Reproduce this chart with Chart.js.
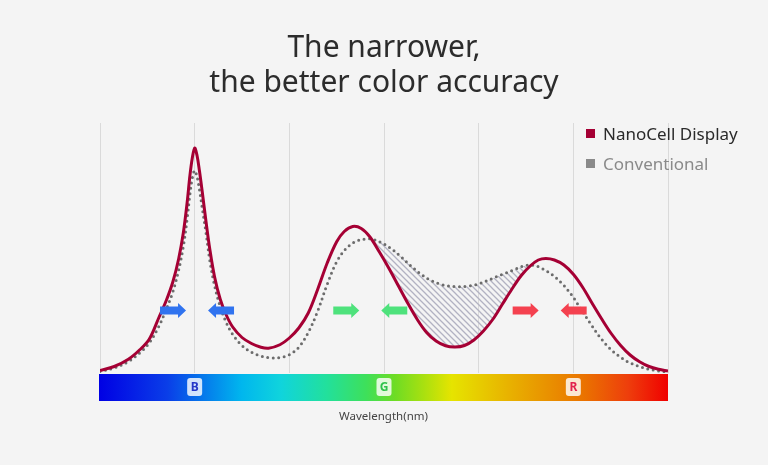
<!DOCTYPE html>
<html>
<head>
<meta charset="utf-8">
<script src="https://cdn.jsdelivr.net/npm/chart.js@4.4.1/dist/chart.umd.min.js"></script>
<style>
  html, body { margin: 0; padding: 0; background: #f4f4f4; }
  #wrap { width: 768px; height: 465px; position: relative; }
</style>
</head>
<body>
<div id="wrap"><canvas id="spectrumChart"></canvas></div>
<script>
// wavelength position (0-600, one gridline per 100) and relative intensity (0-100)
const nanoX = [0, 15, 30, 42, 52, 62, 70, 77, 83, 88, 92, 95, 97.5, 100, 102.5, 105, 108, 112, 116, 121,
  127, 133, 140, 150, 160, 170, 178, 190, 200, 210, 220, 230, 240, 250, 258, 267, 276, 285, 295, 305,
  315, 325, 335, 345, 355, 365, 375, 385, 395, 405, 415, 425, 435, 445, 455, 463, 471, 480, 490, 500,
  510, 520, 530, 540, 550, 560, 570, 580, 590, 600];
const nanoY = [1.0, 2.6, 5.5, 9.3, 13.5, 22.0, 29.0, 36.5, 45.5, 56.0, 68.0, 79.0, 86.0, 90.0, 87.0, 81.0, 72.5, 60.5, 49.5, 38.5,
  29.5, 23.5, 18.5, 14.2, 11.8, 10.3, 9.9, 11.3, 14.0, 18.0, 24.0, 33.5, 44.0, 52.5, 56.6, 58.6, 57.8, 54.5, 48.5, 42.0,
  35.0, 28.0, 21.5, 16.2, 12.8, 10.9, 10.4, 11.0, 13.2, 16.8, 21.5, 27.5, 33.5, 39.0, 43.0, 45.2, 45.8, 45.2, 43.2, 39.5,
  34.2, 27.8, 21.6, 15.8, 11.0, 7.2, 4.5, 2.6, 1.5, 0.8];

const convX = [0, 15, 30, 42, 52, 62, 70, 77, 83, 88, 92, 95, 97.5, 100, 102.5, 105, 108, 112, 116, 121,
  127, 133, 140, 150, 160, 170, 180, 190, 200, 210, 220, 230, 240, 250, 260, 270, 280, 288, 298, 308,
  318, 328, 338, 348, 358, 368, 378, 388, 398, 408, 418, 428, 438, 446, 453, 460, 468, 478, 488, 498,
  508, 518, 528, 538, 548, 558, 568, 580, 590, 600];
const convY = [0.6, 2.0, 4.6, 8.0, 12.0, 18.5, 25.5, 32.5, 41.0, 50.5, 61.5, 71.5, 78.0, 81.0, 78.5, 73.5, 66.0, 56.0, 45.0, 35.0,
  26.5, 20.5, 15.5, 11.0, 8.3, 6.8, 6.1, 6.2, 7.3, 10.3, 16.2, 24.8, 35.5, 44.5, 49.8, 52.6, 53.6, 53.5, 52.0, 49.6,
  46.5, 43.0, 39.8, 37.3, 35.7, 34.8, 34.5, 34.7, 35.4, 36.8, 38.4, 39.9, 41.4, 42.6, 43.2, 42.9, 41.6, 39.2, 35.8, 31.3,
  25.6, 19.8, 14.4, 10.0, 6.8, 4.4, 2.8, 1.5, 0.8, 0.4];

const bandLabels = ['B', 'G', 'R'];
const bandPositions = [100, 300, 500];
const bandColors = ['#2438c8', '#2ec24a', '#e2234e'];

// narrowing arrows around each peak
const arrowCenters = [102.5, 285.5, 475];
const arrowLevel = 25;
const arrowColors = ['#3073ef', '#4ee27c', '#f4414f'];

const titleLines = ['The narrower,', 'the better color accuracy'];
const axisLabel = 'Wavelength(nm)';

const spectrumStops = [
  [0, '#0000e4'], [0.12, '#0a3ee8'], [0.25, '#00b6ee'], [0.32, '#10d4dc'],
  [0.4, '#22e09c'], [0.47, '#3ee05a'], [0.52, '#6edc24'], [0.57, '#a8e010'],
  [0.62, '#e6e400'], [0.72, '#e8b200'], [0.85, '#ea7400'], [0.93, '#ee3e0c'], [1, '#f00000']
];

function makeHatch() {
  const c = document.createElement('canvas');
  c.width = 6;
  c.height = 6;
  const g = c.getContext('2d');
  g.strokeStyle = '#b2b2c2';
  g.lineWidth = 1.3;
  g.beginPath();
  g.moveTo(-1, -1); g.lineTo(7, 7);
  g.moveTo(5, -1); g.lineTo(7, 1);
  g.moveTo(-1, 5); g.lineTo(1, 7);
  g.stroke();
  return g.createPattern(c, 'repeat');
}

function drawArrow(ctx, x0, x1, y, color) {
  // x0 = tail, x1 = tip
  const dir = x1 > x0 ? 1 : -1;
  const head = 8;
  ctx.fillStyle = color;
  ctx.beginPath();
  ctx.moveTo(x0, y - 4);
  ctx.lineTo(x1 - dir * head, y - 4);
  ctx.lineTo(x1 - dir * head, y - 7.5);
  ctx.lineTo(x1, y);
  ctx.lineTo(x1 - dir * head, y + 7.5);
  ctx.lineTo(x1 - dir * head, y + 4);
  ctx.lineTo(x0, y + 4);
  ctx.closePath();
  ctx.fill();
}

const decorPlugin = {
  id: 'decor',
  beforeDraw(chart) {
    const ctx = chart.ctx;
    ctx.save();
    ctx.fillStyle = '#f4f4f4';
    ctx.fillRect(0, 0, chart.width, chart.height);
    ctx.restore();
  },
  afterDatasetsDraw(chart) {
    const ctx = chart.ctx;
    const x = chart.scales.x;
    const y = chart.scales.y;
    const py = y.getPixelForValue(arrowLevel);
    ctx.save();
    arrowCenters.forEach((c, i) => {
      const px = x.getPixelForValue(c);
      drawArrow(ctx, px - 37, px - 11, py, arrowColors[i]);
      drawArrow(ctx, px + 37, px + 11, py, arrowColors[i]);
    });
    ctx.restore();
  },
  afterDraw(chart) {
    const ctx = chart.ctx;
    const x = chart.scales.x;
    const area = chart.chartArea;
    ctx.save();

    // title
    ctx.fillStyle = '#2c2c2c';
    ctx.font = '30px "Noto Sans"';
    ctx.textAlign = 'center';
    ctx.textBaseline = 'alphabetic';
    ctx.fillText(titleLines[0], 384, 57);
    ctx.fillText(titleLines[1], 384, 92);

    // legend
    ctx.textAlign = 'left';
    ctx.font = '17px "Noto Sans"';
    chart.data.datasets.forEach((ds, i) => {
      const base = 140 + i * 30;
      ctx.fillStyle = ds.legendColor;
      ctx.fillRect(586, base - 11, 9, 9);
      ctx.fillStyle = ds.legendText;
      ctx.fillText(ds.label, 603, base);
    });

    // spectrum bar
    const left = x.getPixelForValue(0) - 1;
    const right = x.getPixelForValue(600);
    const top = area.bottom + 1;
    const grad = ctx.createLinearGradient(left, 0, right, 0);
    spectrumStops.forEach(([p, c]) => grad.addColorStop(p, c));
    ctx.fillStyle = grad;
    ctx.fillRect(left, top, right - left, 27);

    // band badges
    ctx.textAlign = 'center';
    ctx.textBaseline = 'middle';
    ctx.font = 'bold 12px "Noto Sans"';
    bandLabels.forEach((lab, i) => {
      const px = x.getPixelForValue(bandPositions[i]);
      ctx.fillStyle = 'rgba(255,255,255,0.82)';
      ctx.beginPath();
      ctx.roundRect(px - 7.5, top + 4, 15, 18, 3);
      ctx.fill();
      ctx.fillStyle = bandColors[i];
      ctx.fillText(lab, px, top + 13.5);
    });

    // axis label
    ctx.fillStyle = '#444';
    ctx.font = '11.5px "Noto Sans"';
    ctx.textBaseline = 'alphabetic';
    ctx.fillText(axisLabel, (left + right) / 2, 420);
    ctx.restore();
  }
};

new Chart(document.getElementById('spectrumChart'), {
  type: 'line',
  data: {
    datasets: [{
      label: 'NanoCell Display',
      data: nanoX.map((v, i) => ({ x: v, y: nanoY[i] })),
      borderColor: '#a50034',
      borderWidth: 3,
      tension: 0.35,
      pointRadius: 0,
      fill: { target: 1, above: 'rgba(0,0,0,0)', below: makeHatch() },
      legendColor: '#a50034',
      legendText: '#2a2a2a'
    }, {
      label: 'Conventional',
      data: convX.map((v, i) => ({ x: v, y: convY[i] })),
      borderColor: '#6c6c6c',
      borderWidth: 3,
      borderDash: [0, 5.5],
      borderCapStyle: 'round',
      tension: 0.35,
      pointRadius: 0,
      fill: false,
      legendColor: '#8a8a8a',
      legendText: '#8a8a8a'
    }]
  },
  options: {
    responsive: true,
    maintainAspectRatio: false,
    animation: false,
    layout: { padding: { top: 123, bottom: 92, left: 100, right: 100 } },
    plugins: {
      legend: { display: false },
      tooltip: { enabled: false },
      filler: { drawTime: 'beforeDatasetsDraw' }
    },
    scales: {
      x: {
        type: 'linear',
        min: 0,
        max: 600,
        ticks: { display: false, stepSize: 100 },
        grid: { color: '#dadada', lineWidth: 1, drawTicks: false },
        border: { display: false }
      },
      y: {
        display: false,
        min: 0,
        max: 100
      }
    }
  },
  plugins: [decorPlugin]
});
</script>
</body>
</html>
